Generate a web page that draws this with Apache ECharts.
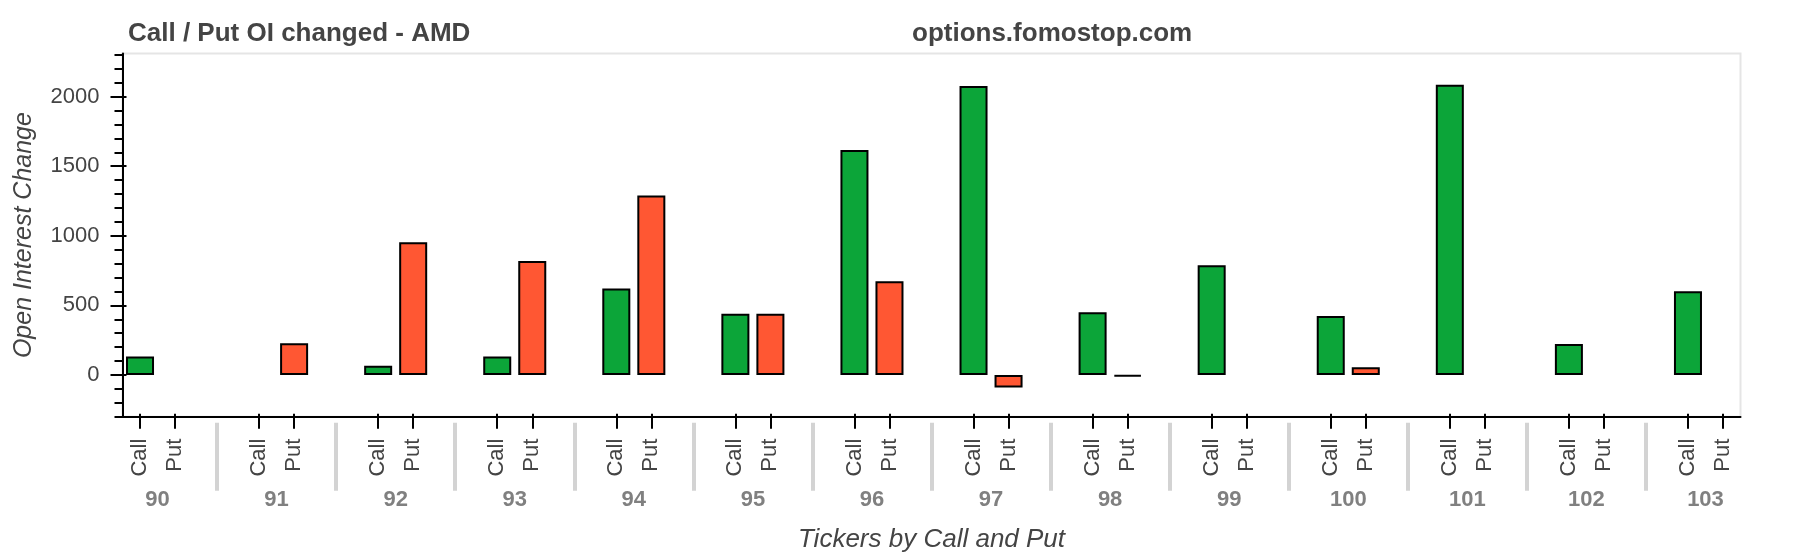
<!DOCTYPE html>
<html>
<head>
<meta charset="utf-8">
<script src="https://cdn.jsdelivr.net/npm/echarts@6/dist/echarts.min.js"></script>
<style>
  html, body { margin: 0; padding: 0; background: #ffffff; }
  #chart { width: 1800px; height: 560px; }
</style>
</head>
<body>
<div id="chart"></div>
<script>
// ---- data ----
const strikes = ['90', '91', '92', '93', '94', '95', '96', '97', '98', '99', '100', '101', '102', '103'];
const subgroups = ['Call', 'Put'];
const callOI = [132, null, 67, 132, 621, 439, 1616, 2077, 451, 789, 424, 2086, 223, 602];
const putOI  = [null, 228, 954, 818, 1290, 439, 674, -91, -10, null, 55, null, null, null];
const yMajorTicks = [0, 500, 1000, 1500, 2000];
const yMinorTicks = [-300, -200, -100, 100, 200, 300, 400, 600, 700, 800, 900, 1100, 1200, 1300, 1400,
                     1600, 1700, 1800, 1900, 2100, 2200, 2300];
const yMin = -300, yMax = 2310;

// ---- factor-range layout (grouped categorical axis) ----
const groupPadding = 1.4;
const groupSpan = subgroups.length + groupPadding;
const rangeEnd = strikes.length * subgroups.length + (strikes.length - 1) * groupPadding;
const factorTicks = [];
const separatorTicks = [];
strikes.forEach((s, g) => {
  subgroups.forEach((c, k) => factorTicks.push(g * groupSpan + k + 0.5));
  if (g < strikes.length - 1) separatorTicks.push(g * groupSpan + subgroups.length + groupPadding / 2);
});

const FONT = '"Liberation Sans", Arial, Helvetica, sans-serif';
const frameL = 122.5, frameW = 1618, frameT = 53.5, frameH = 363.2;
const u = frameW / rangeEnd;
const padPx = u * groupPadding / 2;

const chart = echarts.init(document.getElementById('chart'), null, { renderer: 'canvas' });
chart.setOption({
  animation: false,
  backgroundColor: '#ffffff',
  textStyle: { fontFamily: FONT },
  title: [
    { text: 'Call / Put OI changed - AMD', left: 123, top: 16,
      textStyle: { fontFamily: FONT, fontSize: 26, fontWeight: 'bold', color: '#444444' } },
    { text: 'options.fomostop.com', left: 907, top: 16,
      textStyle: { fontFamily: FONT, fontSize: 26, fontWeight: 'bold', color: '#444444' } }
  ],
  grid: [
    { left: frameL - padPx, width: frameW + 2 * padPx, top: frameT, height: frameH,
      show: false, outerBoundsMode: 'none', containLabel: false },
    { left: frameL, width: frameW, top: frameT, height: frameH,
      show: true, borderColor: '#e5e5e5', borderWidth: 2, backgroundColor: 'rgba(0,0,0,0)',
      outerBoundsMode: 'none', containLabel: false }
  ],
  xAxis: [
    { // bars + Call/Put labels
      type: 'category', gridIndex: 0, data: strikes, boundaryGap: true,
      axisLine: { show: false, onZero: false }, axisTick: { show: false }, splitLine: { show: false },
      axisLabel: {
        interval: 0, rotate: 90, margin: 22, fontSize: 22, color: '#444444', fontFamily: FONT,
        lineHeight: u, formatter: () => subgroups.join('\n')
      }
    },
    { // strike group labels
      type: 'category', gridIndex: 0, data: strikes, boundaryGap: true, position: 'bottom',
      axisLine: { show: false, onZero: false }, axisTick: { show: false }, splitLine: { show: false },
      axisLabel: { interval: 0, margin: 72, fontSize: 22, fontWeight: 'bold', color: '#808080', fontFamily: FONT }
    },
    { // group separators
      type: 'value', gridIndex: 1, min: 0, max: rangeEnd, position: 'bottom', offset: 6,
      axisLine: { show: false, onZero: false }, splitLine: { show: false }, axisLabel: { show: false },
      axisTick: { show: true, customValues: separatorTicks, length: 68, lineStyle: { color: '#d3d3d3', width: 4 } }
    },
    { // axis line + factor ticks + title
      type: 'value', gridIndex: 1, min: 0, max: rangeEnd, position: 'bottom',
      axisLine: { show: true, onZero: false, lineStyle: { color: '#000000', width: 2 } },
      splitLine: { show: false }, axisLabel: { show: false },
      axisTick: { show: true, customValues: factorTicks, length: 12, lineStyle: { color: '#000000', width: 2 } },
      name: 'Tickers by Call and Put', nameLocation: 'middle', nameGap: 110,
      nameTextStyle: { fontFamily: FONT, fontSize: 26, fontStyle: 'italic', color: '#444444' }
    },
    { // inner part of factor ticks
      type: 'value', gridIndex: 1, min: 0, max: rangeEnd, position: 'bottom',
      axisLine: { show: false, onZero: false }, splitLine: { show: false }, axisLabel: { show: false },
      axisTick: { show: true, inside: true, customValues: factorTicks, length: 3, lineStyle: { color: '#000000', width: 2 } }
    }
  ],
  yAxis: [
    { type: 'value', gridIndex: 0, min: yMin, max: yMax, show: false, axisLine: { onZero: false } },
    {
      type: 'value', gridIndex: 1, min: yMin, max: yMax, position: 'left',
      axisLine: { show: true, onZero: false, lineStyle: { color: '#000000', width: 2 } },
      splitLine: { show: false },
      axisTick: { show: true, customValues: yMajorTicks, length: 12, lineStyle: { color: '#000000', width: 2 } },
      axisLabel: { customValues: yMajorTicks, margin: 23, fontSize: 22, color: '#444444', fontFamily: FONT,
                   formatter: v => String(v) },
      name: 'Open Interest Change', nameLocation: 'middle', nameGap: 86,
      nameTextStyle: { fontFamily: FONT, fontSize: 25, fontStyle: 'italic', color: '#444444' }
    },
    {
      type: 'value', gridIndex: 1, min: yMin, max: yMax, position: 'left',
      axisLine: { show: false, onZero: false }, splitLine: { show: false }, axisLabel: { show: false },
      axisTick: { show: true, customValues: yMinorTicks, length: 8, lineStyle: { color: '#000000', width: 2 } }
    },
    {
      type: 'value', gridIndex: 1, min: yMin, max: yMax, position: 'left',
      axisLine: { show: false, onZero: false }, splitLine: { show: false }, axisLabel: { show: false },
      axisTick: { show: true, inside: true, customValues: yMajorTicks, length: 4, lineStyle: { color: '#000000', width: 2 } }
    }
  ],
  series: [
    { name: 'Call', type: 'bar', xAxisIndex: 0, yAxisIndex: 0, data: callOI,
      barWidth: u * 0.8, barGap: '25%',
      itemStyle: { color: '#0ca539', borderColor: '#000000', borderWidth: 2 },
      emphasis: { disabled: true } },
    { name: 'Put', type: 'bar', xAxisIndex: 0, yAxisIndex: 0, data: putOI,
      barWidth: u * 0.8, barGap: '25%',
      itemStyle: { color: '#ff5733', borderColor: '#000000', borderWidth: 2 },
      emphasis: { disabled: true } }
  ]
});
</script>
</body>
</html>
